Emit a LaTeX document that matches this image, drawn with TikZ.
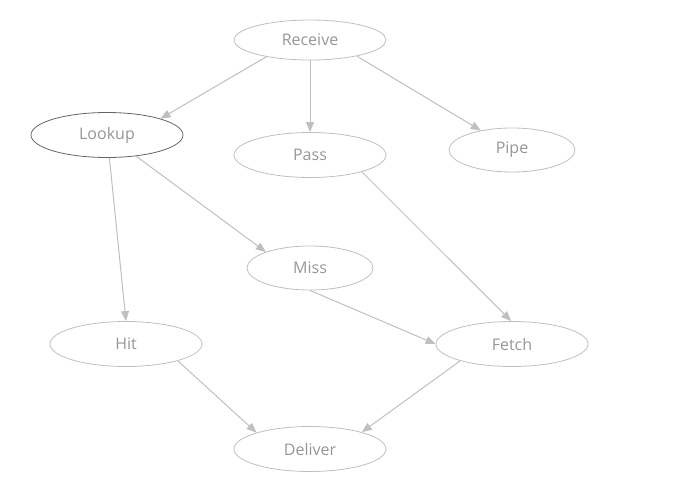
\documentclass[tikz,border=0pt]{standalone}
\usepackage{fontspec}
\setmainfont{Open Sans}
\usetikzlibrary{arrows.meta,shapes.geometric}

\definecolor{edgegray}{RGB}{191,191,191}
\definecolor{textgray}{RGB}{150,150,150}
\definecolor{darkrim}{RGB}{100,100,100}

\begin{document}
\begin{tikzpicture}[
  x=1pt, y=-1pt,
  state/.style={ellipse, draw=edgegray, line width=0.8pt, text=textgray,
    font=\fontsize{16}{19}\selectfont, minimum width=152pt, minimum height=45pt, inner sep=0pt},
  small/.style={minimum width=126pt, minimum height=44pt},
  flow/.style={-{Triangle[length=10pt, width=8pt]}, line width=1pt, draw=edgegray}
]
  \useasboundingbox (0,0) rectangle (678,496);

  \node[state, minimum height=40pt] (recv) at (310,40) {Receive};
  \node[state, draw=darkrim] (look) at (107,135) {Lookup};
  \node[state] (pass) at (310,155) {Pass};
  \node[state, small] (pipe) at (512,150) {Pipe};
  \node[state, small] (miss) at (310,268) {Miss};
  \node[state] (hit) at (126,344) {Hit};
  \node[state] (fetch) at (512,344) {Fetch};
  \node[state] (dlvr) at (310,449) {Deliver};

  \draw[flow] (recv.201) -- (look.17);
  \draw[flow] (recv.south) -- (pass.north);
  \draw[flow] (recv.341) -- (pipe.148);
  \draw[flow] (look.276) -- (hit.north);
  \draw[flow] (look.324) -- (miss.160);
  \draw[flow] (pass.342) -- (fetch.92);
  \draw[flow] (miss.south) -- (fetch.west);
  \draw[flow] (hit.342) -- (dlvr.163);
  \draw[flow] (fetch.198) -- (dlvr.18);
\end{tikzpicture}
\end{document}
